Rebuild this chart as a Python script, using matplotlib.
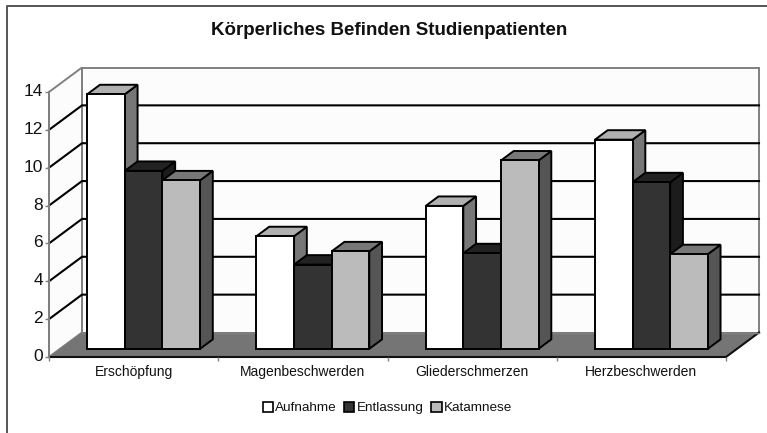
import matplotlib
matplotlib.use("Agg")
import matplotlib.pyplot as plt
from matplotlib.patches import Polygon, Patch
from matplotlib.lines import Line2D
from matplotlib.transforms import ScaledTranslation

plt.rcParams['font.family'] = ['Liberation Sans', 'DejaVu Sans']

title = "Körperliches Befinden Studienpatienten"
categories = ["Erschöpfung", "Magenbeschwerden", "Gliederschmerzen", "Herzbeschwerden"]
series_names = ["Aufnahme", "Entlassung", "Katamnese"]
aufnahme = [13.45, 5.95, 7.55, 11.05]
entlassung = [9.4, 4.45, 5.05, 8.8]
katamnese = [8.9, 5.15, 9.95, 5.0]
y_ticks = [0, 2, 4, 6, 8, 10, 12, 14]

front_colors = ["#ffffff", "#333333", "#bbbbbb"]
top_colors = ["#b0b0b0", "#222222", "#777777"]
side_colors = ["#777777", "#1c1c1c", "#555555"]

W, H = 767, 433
fig = plt.figure(figsize=(W / 100, H / 100), dpi=100, facecolor="white")
L, R, T, B = 49, 726, 92, 357
ax = fig.add_axes([L / W, 1 - B / H, (R - L) / W, (B - T) / H])
ax.set_xlim(0, 4)
ax.set_ylim(0, 14)
ax.patch.set_visible(False)

# oblique offset of the full chart depth, in data units
DX = 33 / ((R - L) / 4)
DY = 24.5 / ((B - T) / 14)


def proj(x, y, d):
    return (x + DX * d, y + DY * d)


def face(pts, fc, ec="black", lw=1.4, z=2):
    ax.add_patch(Polygon(pts, closed=True, facecolor=fc, edgecolor=ec, linewidth=lw,
                         joinstyle="miter", clip_on=False, zorder=z))


ymax = y_ticks[-1]
# back wall and side wall
face([proj(0, 0, 1), proj(4, 0, 1), proj(4, ymax, 1), proj(0, ymax, 1)], "#fcfcfc", "#808080", 1.4, 1)
face([proj(0, 0, 0), proj(0, 0, 1), proj(0, ymax, 1), proj(0, ymax, 0)], "#fcfcfc", "#808080", 1.4, 1)
# floor
face([proj(0, 0, 0), proj(4, 0, 0), proj(4, 0, 1), proj(0, 0, 1)], "#757575", "none", 0, 1.2)
ax.plot(*zip(proj(0, 0, 0), proj(4, 0, 0), proj(4, 0, 1)), color="#111111", lw=1.5,
        clip_on=False, zorder=1.3)
ax.plot(*zip(proj(4, 0, 1), proj(0, 0, 1)), color="#808080", lw=1, clip_on=False, zorder=1.3)

# gridlines
for v in y_ticks[1:-1]:
    ax.plot(*zip(proj(0, v, 0), proj(0, v, 1), proj(4, v, 1)), color="black", lw=1.5,
            clip_on=False, zorder=1.5, solid_joinstyle="miter")

# bars
series = [aufnahme, entlassung, katamnese]
bw = 0.2222
d0, d1 = 1 / 3, 0.72
z = 2.0
for c in range(len(categories)):
    x0 = c + 0.494 - bw * len(series) / 2
    for s, vals in enumerate(series):
        v = vals[c]
        xa, xb = x0 + s * bw, x0 + (s + 1) * bw
        z += 0.01
        face([proj(xb, 0, d0), proj(xb, 0, d1), proj(xb, v, d1), proj(xb, v, d0)], side_colors[s], z=z)
        face([proj(xa, v, d0), proj(xb, v, d0), proj(xb, v, d1), proj(xa, v, d1)], top_colors[s], z=z)
        face([proj(xa, 0, d0), proj(xb, 0, d0), proj(xb, v, d0), proj(xa, v, d0)], front_colors[s], z=z)

# axes furniture
for k in ("top", "right", "bottom"):
    ax.spines[k].set_visible(False)
ax.spines["left"].set_color("#808080")
ax.spines["left"].set_linewidth(1.4)
ax.set_yticks(y_ticks)
ax.tick_params(axis="y", length=3, width=1, color="#808080", labelsize=12.5, pad=1.5, labelcolor="#111111")
up = ScaledTranslation(0, 2 / 100, fig.dpi_scale_trans)
for lab in ax.get_yticklabels():
    lab.set_transform(lab.get_transform() + up)
ax.set_xticks([0.5, 1.5, 2.5, 3.5])
ax.set_xticklabels(categories)
ax.set_xticks([0, 1, 2, 3, 4], minor=True)
ax.tick_params(axis="x", which="major", length=0, labelsize=10, pad=6, labelcolor="#111111")
ax.tick_params(axis="x", which="minor", length=3, width=1, color="#808080")

fig.text(389.5 / W, 1 - 30.5 / H, title, ha="center", va="center", fontsize=13.5, fontweight="bold", color="#111111")

handles = [Patch(facecolor=front_colors[i], edgecolor="black", linewidth=1.2, label=series_names[i])
           for i in range(3)]
fig.legend(handles=handles, loc="center", bbox_to_anchor=(387.5 / W, 1 - 408 / H), ncol=3, frameon=False,
           fontsize=9.7, handlelength=0.75, handleheight=0.75, handletextpad=0.2, columnspacing=0.55,
           labelcolor="#111111")

# chart frame
fig.add_artist(Line2D([7 / W, 7 / W, 1], [0, 1 - 6 / H, 1 - 6 / H], transform=fig.transFigure,
                      color="#555555", lw=1.4))

fig.savefig("out.png", dpi=100)
